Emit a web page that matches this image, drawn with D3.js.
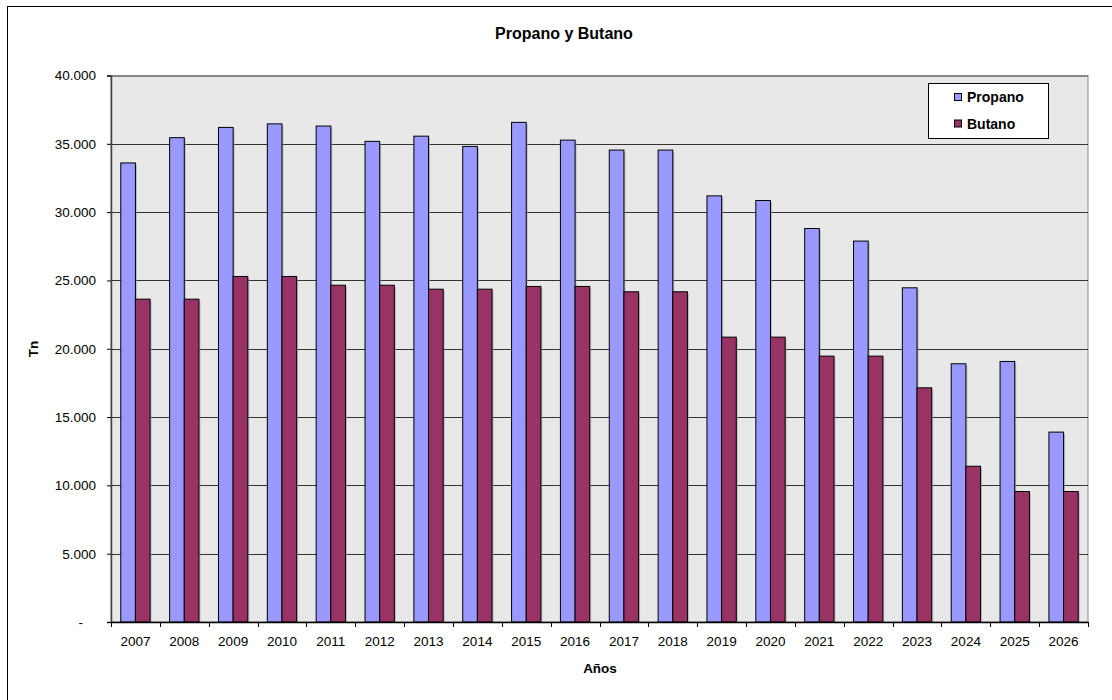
<!DOCTYPE html>
<html>
<head>
<meta charset="utf-8">
<script src="https://cdn.jsdelivr.net/npm/d3@7"></script>
<style>
  html, body { margin: 0; padding: 0; background: #fff; }
  svg { display: block; font-family: "Liberation Sans", Arial, sans-serif; }
</style>
</head>
<body>
<svg id="chart" width="1112" height="700"></svg>
<script>
const years = ["2007","2008","2009","2010","2011","2012","2013","2014","2015","2016",
               "2017","2018","2019","2020","2021","2022","2023","2024","2025","2026"];
const propano = [33600,35450,36200,36460,36300,35180,35560,34810,36570,35270,
                 34540,34540,31190,30850,28800,27880,24460,18900,19070,13900];
const butano  = [23630,23630,25290,25290,24650,24650,24360,24360,24560,24560,
                 24170,24170,20850,20850,19460,19460,17140,11400,9550,9550];
const seriesNames = ["Propano","Butano"];
const seriesColors = ["#9999FF","#993366"];
const yTicks = [0,5000,10000,15000,20000,25000,30000,35000,40000];

const svg = d3.select("#chart");
const pLeft = 111, pRight = 1088, pTop = 75.5, pBottom = 622;

// outer chart border
svg.append("rect").attr("x",7.5).attr("y",6.5).attr("width",1120).attr("height",720)
  .attr("fill","#fff").attr("stroke","#000").attr("stroke-width",1);

// plot area background
svg.append("rect").attr("x",pLeft).attr("y",pTop).attr("width",pRight-pLeft).attr("height",pBottom-pTop)
  .attr("fill","#E8E8E8").attr("stroke","#888").attr("stroke-width",1);

const x0 = d3.scaleBand().domain(years).range([pLeft,pRight]).paddingInner(0).paddingOuter(0);
const step = x0.bandwidth();
const x1 = d3.scaleBand().domain(seriesNames).range([step*0.2, step*0.8]).padding(0);
const y = d3.scaleLinear().domain([0,40000]).range([pBottom, pTop]);

// gridlines
svg.append("g").selectAll("line").data(yTicks.filter(d=>d>0)).join("line")
  .attr("x1",pLeft).attr("x2",pRight)
  .attr("y1",d=>Math.round(y(d))+0.5).attr("y2",d=>Math.round(y(d))+0.5)
  .attr("stroke", d => d===40000 ? "#888" : "#333").attr("stroke-width",1);

// bars
const data = years.map((yr,i)=>({year:yr, vals:[propano[i], butano[i]]}));
const groups = svg.append("g").selectAll("g").data(data).join("g")
  .attr("transform", d=>`translate(${x0(d.year)},0)`);
groups.selectAll("rect.shadow").data(d=>d.vals.map((v,j)=>({v, s:seriesNames[j], c:seriesColors[j]})))
  .join("rect").attr("class","shadow")
  .attr("x",d=>x1(d.s)+1.5).attr("y",d=>y(d.v)+1.5)
  .attr("width",x1.bandwidth()).attr("height",d=>pBottom-y(d.v)-1.5)
  .attr("fill","#999").attr("opacity",0.6);
groups.selectAll("rect.bar").data(d=>d.vals.map((v,j)=>({v, s:seriesNames[j], c:seriesColors[j]})))
  .join("rect").attr("class","bar")
  .attr("x",d=>x1(d.s)).attr("y",d=>y(d.v))
  .attr("width",x1.bandwidth()).attr("height",d=>pBottom-y(d.v))
  .attr("fill",d=>d.c).attr("stroke","#000").attr("stroke-width",1);

// y axis
const yAxis = d3.axisLeft(y).tickValues(yTicks).tickSize(4).tickPadding(11)
  .tickFormat(d => d===0 ? "-" : d3.format(",")(d).replace(/,/g,"."));
const gy = svg.append("g").attr("transform",`translate(${pLeft},0)`).call(yAxis);
gy.select(".domain").attr("stroke","#444").attr("stroke-width",1.5);
gy.selectAll(".tick line").attr("stroke","#000");
gy.selectAll(".tick text").attr("font-size","13.5px").attr("fill","#000")
  .attr("font-family",'"Liberation Sans", Arial, sans-serif');
gy.selectAll(".tick").filter(d=>d===0).select("text").attr("dx",-13);

// x axis
const xAxis = d3.axisBottom(x0).tickSize(0).tickPadding(14);
const gx = svg.append("g").attr("transform",`translate(0,${pBottom})`).call(xAxis);
gx.select(".domain").attr("stroke","#000").attr("stroke-width",1.5);
gx.selectAll(".tick text").attr("font-size","13.5px").attr("fill","#000")
  .attr("font-family",'"Liberation Sans", Arial, sans-serif');
// category boundary ticks
svg.append("g").selectAll("line").data(years.concat(["end"])).join("line")
  .attr("x1",(d,i)=>Math.round(pLeft + i*step)+0.5).attr("x2",(d,i)=>Math.round(pLeft + i*step)+0.5)
  .attr("y1",pBottom).attr("y2",pBottom+5).attr("stroke","#000");

// titles
svg.append("text").attr("x",564).attr("y",39).attr("text-anchor","middle")
  .attr("font-size","16px").attr("font-weight","bold").text("Propano y Butano");
svg.append("text").attr("x",600).attr("y",673).attr("text-anchor","middle")
  .attr("font-size","13.5px").attr("font-weight","bold").text("Años");
svg.append("text").attr("transform","translate(37.5,349) rotate(-90)").attr("text-anchor","middle")
  .attr("font-size","13.5px").attr("font-weight","bold").text("Tn");

// legend
const lg = svg.append("g");
lg.append("rect").attr("x",928.5).attr("y",83.5).attr("width",120).attr("height",55)
  .attr("fill","#fff").attr("stroke","#000").attr("stroke-width",1);
const li = lg.selectAll("g").data(seriesNames).join("g")
  .attr("transform",(d,i)=>`translate(0,${97 + i*26.5})`);
li.append("rect").attr("x",954.5).attr("y",-3.5).attr("width",7).attr("height",7)
  .attr("fill",(d,i)=>seriesColors[i]).attr("stroke","#000");
li.append("text").attr("x",967).attr("y",5).attr("font-size","14px").attr("font-weight","bold")
  .text(d=>d);
</script>
</body>
</html>
